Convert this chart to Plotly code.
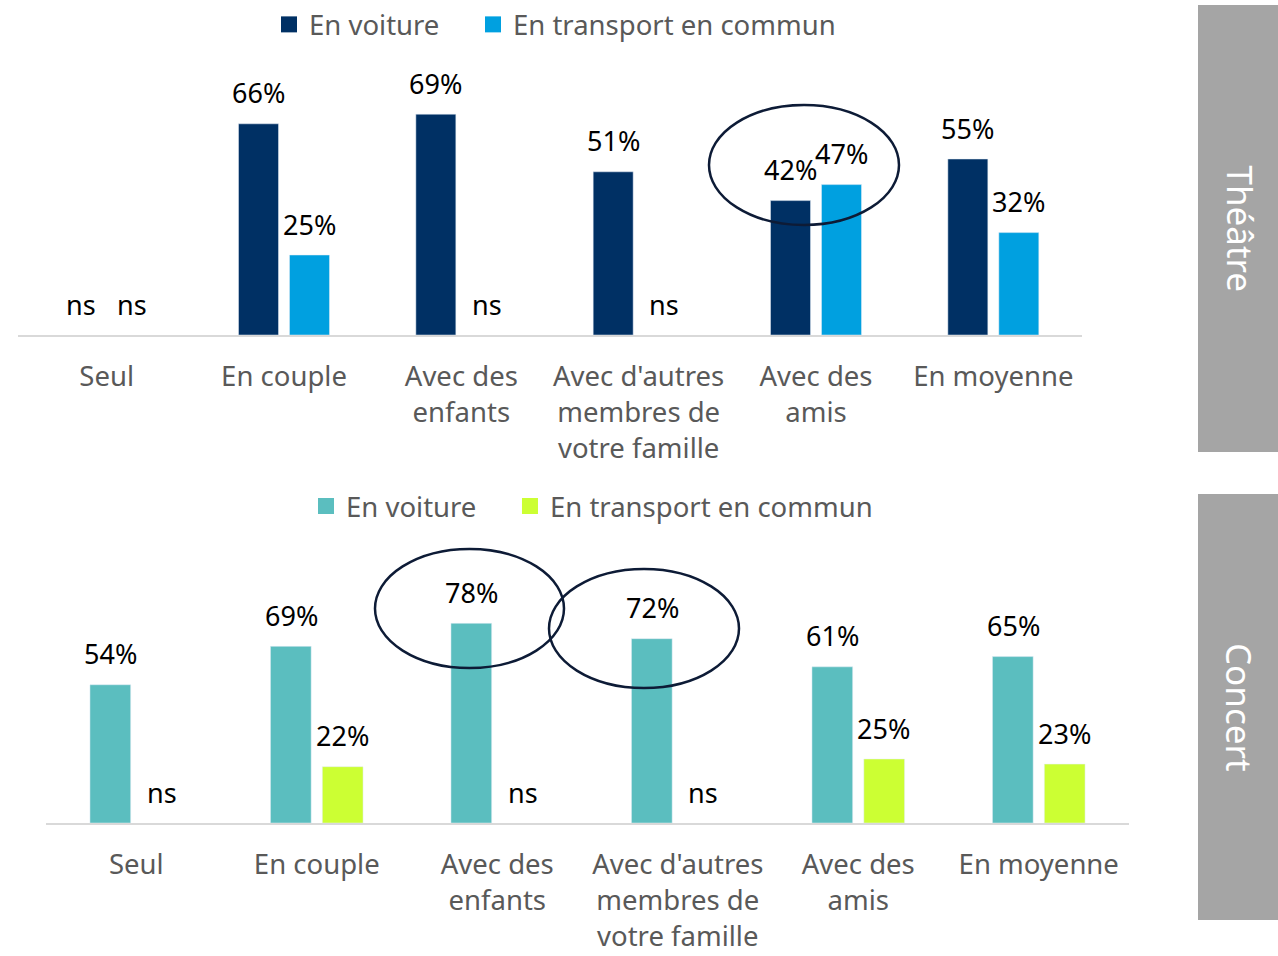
import plotly.graph_objects as go

W, H = 1278, 956

categories = ["Seul", "En couple", "Avec des enfants", "Avec d'autres membres de votre famille", "Avec des amis", "En moyenne"]
tick_labels = ["Seul", "En couple", "Avec des<br>enfants", "Avec d'autres<br>membres de<br>votre famille", "Avec des<br>amis", "En moyenne"]

theatre_voiture = [None, 66, 69, 51, 42, 55]
theatre_transport = [None, 25, None, None, 47, 32]
concert_voiture = [54, 69, 78, 72, 61, 65]
concert_transport = [None, 22, None, None, 25, 23]

series_names = ["En voiture", "En transport en commun"]
theatre_colors = ["#003064", "#00A0E0"]
concert_colors = ["#5BBEBF", "#CCFF33"]
panel_titles = ["Théâtre", "Concert"]

FONT = "Noto Sans"
GREY = "#595959"
NBSP = "\u00a0"


def px_x(p):
    return p / W


def px_y(p):
    return 1 - p / H


fig = go.Figure()

for name, vals, col in zip(series_names, [theatre_voiture, theatre_transport], theatre_colors):
    fig.add_trace(go.Bar(x=categories, y=vals, name=name, marker_color=col, showlegend=False,
                         xaxis="x", yaxis="y", hoverinfo="skip"))
for name, vals, col in zip(series_names, [concert_voiture, concert_transport], concert_colors):
    fig.add_trace(go.Bar(x=categories, y=vals, name=name, marker_color=col, showlegend=False,
                         xaxis="x2", yaxis="y2", hoverinfo="skip"))

# legend entries (square markers)
for leg, xa, ya, cols in [("legend", "x", "y", theatre_colors), ("legend2", "x2", "y2", concert_colors)]:
    for i, (name, col) in enumerate(zip(series_names, cols)):
        label = name + NBSP * 4 if i == 0 else name
        fig.add_trace(go.Scatter(x=[None], y=[None], mode="markers", name=label, legend=leg,
                                 marker=dict(symbol="square", size=17, color=col),
                                 xaxis=xa, yaxis=ya, hoverinfo="skip"))

annotations = []
for xref, yref, series in [("x", "y", [theatre_voiture, theatre_transport]),
                           ("x2", "y2", [concert_voiture, concert_transport])]:
    for si, vals in enumerate(series):
        shift = -25.5 if si == 0 else 25.5
        for c, v in zip(categories, vals):
            annotations.append(dict(
                x=c, y=0 if v is None else v, xref=xref, yref=yref,
                text="ns" if v is None else f"{v}%",
                showarrow=False, xshift=shift, yshift=31, yanchor="middle",
                font=dict(family=FONT, size=27, color="#000000")))

# side panels
shapes = []
for (y0, y1), title in zip([(5, 452), (494, 920)], panel_titles):
    shapes.append(dict(type="rect", xref="paper", yref="paper",
                       x0=px_x(1198), x1=1, y0=px_y(y1), y1=px_y(y0),
                       fillcolor="#A5A5A5", line=dict(width=0), layer="below"))
    annotations.append(dict(x=px_x(1240), y=px_y((y0 + y1) / 2), xref="paper", yref="paper",
                            xanchor="center", yanchor="middle",
                            text=title, textangle=90, showarrow=False,
                            font=dict(family=FONT, size=35, color="#FFFFFF")))

# highlight ellipses
for (x0, y0, x1, y1) in [(709, 105, 899, 225), (375, 549, 564, 668), (549, 569, 739, 688)]:
    shapes.append(dict(type="circle", xref="paper", yref="paper",
                       x0=px_x(x0), x1=px_x(x1), y0=px_y(y1), y1=px_y(y0),
                       line=dict(color="#0D1B36", width=2.5)))

xaxis_common = dict(type="category", showline=True, linecolor="#D9D9D9", linewidth=2,
                    showgrid=False, ticks="", tickmode="array", tickvals=categories,
                    ticktext=tick_labels, tickfont=dict(family=FONT, size=27.5, color=GREY),
                    ticklabelstandoff=16, zeroline=False, fixedrange=True)
yaxis_common = dict(showgrid=False, showticklabels=False, zeroline=False, showline=False,
                    ticks="", fixedrange=True)

legend_common = dict(orientation="h", xanchor="center",
                     font=dict(family=FONT, size=27.5, color=GREY), bgcolor="rgba(0,0,0,0)",
                     itemsizing="trace")

fig.update_layout(
    width=W, height=H,
    margin=dict(l=0, r=0, t=0, b=0),
    paper_bgcolor="white", plot_bgcolor="white",
    barmode="group", bargap=0.425, bargroupgap=0.2156,
    xaxis=dict(domain=[px_x(18), px_x(1082)], anchor="y", **xaxis_common),
    yaxis=dict(domain=[px_y(335), px_y(47)], range=[0, 90], anchor="x", **yaxis_common),
    xaxis2=dict(domain=[px_x(46), px_x(1129)], anchor="y2", **xaxis_common),
    yaxis2=dict(domain=[px_y(823), px_y(541.4)], range=[0, 110], anchor="x2", **yaxis_common),
    legend=dict(x=px_x(555), y=1, yanchor="top", **legend_common),
    legend2=dict(x=px_x(592), y=px_y(506), yanchor="middle", **legend_common),
    shapes=shapes,
    annotations=annotations,
    font=dict(family=FONT),
)

fig.write_html("out.html",
               config={"displayModeBar": False, "staticPlot": True},
               post_script="document.body.style.margin='0';document.body.style.padding='0';"
                           "document.body.style.overflow='hidden';"
                           "document.documentElement.style.overflow='hidden';"
                           "var d=document.getElementsByClassName('plotly-graph-div')[0];"
                           "d.style.position='fixed';d.style.top='0px';d.style.left='0px';")
